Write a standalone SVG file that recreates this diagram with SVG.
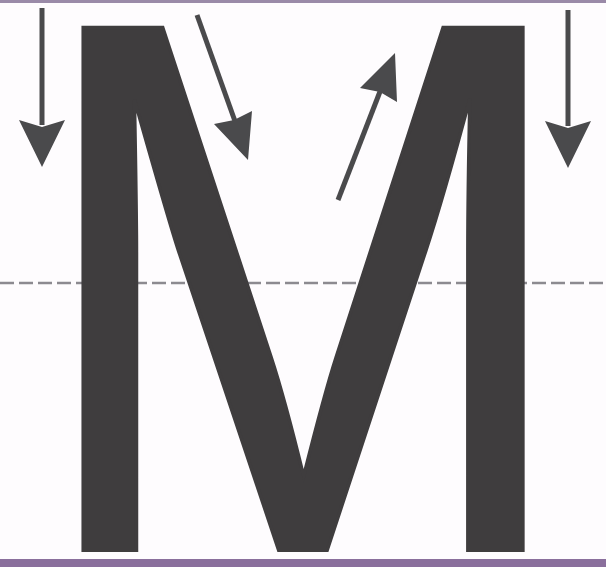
<svg xmlns="http://www.w3.org/2000/svg" width="606" height="567" viewBox="0 0 606 567">
  <defs>
    <style>
      .letter { font-family: Inter, "Noto Sans", "Liberation Sans", sans-serif; font-weight: 400; fill: #3f3d3e; stroke: #3f3d3e; stroke-width: 4; stroke-linejoin: miter; }
      .guide { stroke: #8c8a90; stroke-width: 2.5; stroke-dasharray: 14 5; fill: none; }
      .shaft { stroke: #4a4a4c; stroke-width: 5; fill: none; stroke-linecap: butt; }
      .head { fill: #4a4a4c; }
    </style>
  </defs>
  <rect x="0" y="0" width="606" height="567" fill="#fefcfe"/>
  <rect x="0" y="0" width="606" height="3" fill="#9a8aa8"/>
  <rect x="0" y="559" width="606" height="8" fill="#8a6f9c"/>
  <line class="guide" x1="0" y1="283" x2="606" y2="283"/>
  <g id="letter-M">
    <text class="letter" transform="translate(30,550) scale(0.842,1)" font-size="718">M</text>
  </g>
  <g id="arrows">
    <g id="arrow1">
      <line class="shaft" x1="42" y1="8" x2="42" y2="125"/>
      <polygon class="head" points="42,167 19,120 42,127 65,120"/>
    </g>
    <g id="arrow2">
      <line class="shaft" x1="197" y1="15" x2="236" y2="124"/>
      <polygon class="head" points="248,160 214,124 234,120 252,111"/>
    </g>
    <g id="arrow3">
      <line class="shaft" x1="338" y1="200" x2="381" y2="89"/>
      <polygon class="head" points="395,53 360,88 380,92 397,102"/>
    </g>
    <g id="arrow4">
      <line class="shaft" x1="568" y1="10" x2="568" y2="126"/>
      <polygon class="head" points="568,168 545,121 568,128 591,121"/>
    </g>
  </g>
</svg>
